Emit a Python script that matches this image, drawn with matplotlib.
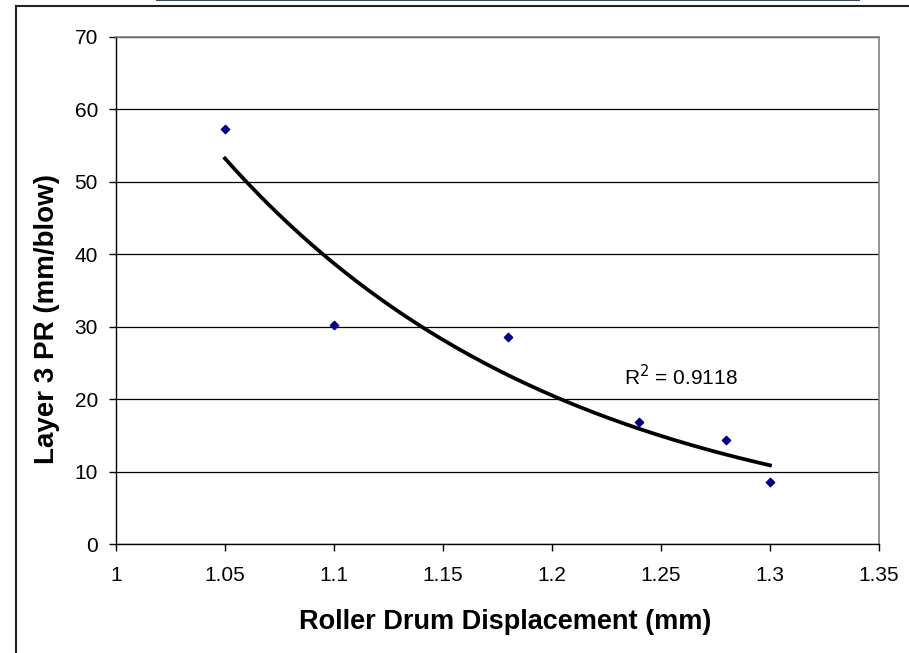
import numpy as np
import matplotlib.pyplot as plt
from matplotlib.lines import Line2D
from matplotlib.patches import Rectangle

plt.rcParams['font.family'] = ['Liberation Sans', 'DejaVu Sans']

displacement = [1.05, 1.10, 1.18, 1.24, 1.28, 1.30]
pr_layer3 = [57.3, 30.2, 28.6, 16.9, 14.4, 8.5]
r2_text = "R$^2$ = 0.9118"

# exponential trendline, fitted like Excel does (on ln y)
b, ln_a = np.polyfit(displacement, np.log(pr_layer3), 1)
xs = np.linspace(min(displacement), max(displacement), 200)
ys = np.exp(ln_a) * np.exp(b * xs)

fig = plt.figure(figsize=(9.09, 6.53), dpi=100)
ax = fig.add_axes([116 / 909, 1 - 544 / 653, (879 - 116) / 909, (544 - 37) / 653])

ax.plot(xs, ys, color='black', lw=2.7, zorder=3)
ax.scatter(displacement, pr_layer3, marker='D', s=18, color='#000080', zorder=4)

ax.set_xlim(1, 1.35)
ax.set_ylim(0, 70)
ax.set_xticks(np.arange(1, 1.351, 0.05))
ax.set_xticklabels(['1', '1.05', '1.1', '1.15', '1.2', '1.25', '1.3', '1.35'])
ax.set_yticks(range(0, 71, 10))
ax.yaxis.grid(True, color='black', lw=0.9)
ax.set_axisbelow(True)

for side in ['top', 'right']:
    ax.spines[side].set_color('#808080')
    ax.spines[side].set_linewidth(1.2)
for side in ['left', 'bottom']:
    ax.spines[side].set_color('black')
    ax.spines[side].set_linewidth(1.0)

ax.tick_params(direction='out', length=5, width=1, labelsize=15, pad=8)
ax.tick_params(axis='x', pad=11)

ax.set_xlabel('Roller Drum Displacement (mm)', fontsize=19.5, fontweight='bold')
ax.set_ylabel('Layer 3 PR (mm/blow)', fontsize=20, fontweight='bold')
ax.xaxis.set_label_coords(0.51, -0.128)
ax.yaxis.set_label_coords(-0.073, 0.444)

ax.text(1.259, 23.1, r2_text, fontsize=15, ha='center', va='center')

# outer frame pieces (left and top edges) and dark strip at top
fig.add_artist(Line2D([15.5 / 909, 15.5 / 909], [0, 1 - 6 / 653], color='#222222', lw=1.5))
fig.add_artist(Line2D([15.5 / 909, 1], [1 - 6 / 653, 1 - 6 / 653], color='#222222', lw=1.5))
fig.add_artist(Rectangle((156 / 909, 1 - 1.2 / 653), (860 - 156) / 909, 1.2 / 653,
                         color='#3a4a5a', lw=0, transform=fig.transFigure))

fig.savefig('out.png', dpi=100)
